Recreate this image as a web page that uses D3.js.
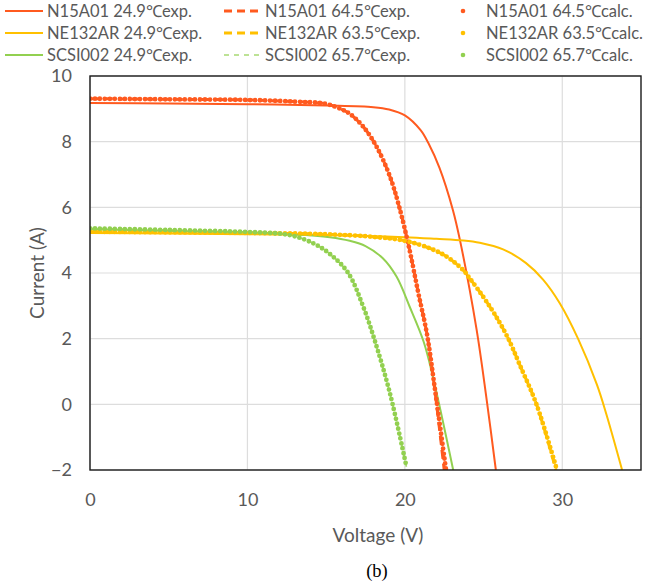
<!DOCTYPE html>
<html>
<head>
<meta charset="utf-8">
<script src="https://cdn.jsdelivr.net/npm/d3@7"></script>
<style>
	body { margin: 0; background: #fff; }
	text { font-family: Lato, "Open Sans", sans-serif; fill: #595959; }
</style>
</head>
<body>
<div class="iv-chart"></div>
<script>

// x ticks / y ticks
const voltTicks = [0, 10, 20, 30];
const currTicks = [-2, 0, 2, 4, 6, 8, 10];

// [voltage, current]
const n15a01Exp25 = [[0, 9.18], [5, 9.16], [10, 9.14], [15, 9.1], [18, 9.05], [19, 8.98], [20, 8.8], [21, 8.35], [21.5, 7.95], [22.2, 7.2], [23.05, 5.92], [23.5, 5.0], [24.55, 2.3], [25.18, 0.2], [25.78, -2.0]];
const n15a01Exp64 = [[0, 9.31], [5, 9.29], [10, 9.27], [13, 9.22], [15, 9.15], [16, 8.98], [16.5, 8.85], [17.35, 8.46], [18.2, 7.85], [19.05, 6.94], [19.65, 6.0], [20.3, 4.7], [20.85, 3.4], [21.4, 2.15], [21.9, 0.45], [22.5, -2.0]];
const n15a01Calc64 = [[0, 9.31], [5, 9.29], [10, 9.27], [13, 9.22], [15, 9.15], [16, 8.98], [16.5, 8.85], [17.35, 8.46], [18.2, 7.85], [19.05, 6.94], [19.65, 6.0], [20.3, 4.7], [20.85, 3.4], [21.4, 2.15], [21.9, 0.5], [22.6, -1.95]];

const ne132arExp25 = [[0, 5.22], [5, 5.2], [10, 5.18], [15, 5.16], [20, 5.09], [22, 5.04], [23.7, 4.99], [24.76, 4.92], [26.24, 4.72], [27.7, 4.3], [28.78, 3.8], [29.84, 3.08], [31.0, 2.0], [32.2, 0.6], [32.8, -0.3], [33.8, -2.0]];
const ne132arExp63 = [[0, 5.26], [5, 5.24], [10, 5.22], [15, 5.18], [18, 5.1], [20, 4.98], [21.6, 4.75], [22.65, 4.5], [23.7, 4.09], [24.1, 3.85], [24.97, 3.28], [25.8, 2.67], [26.56, 2.01], [27.3, 1.2], [28.36, 0.0], [29.6, -2.0]];
const ne132arCalc63 = [[0, 5.26], [5, 5.24], [10, 5.22], [15, 5.18], [18, 5.1], [20, 4.98], [21.6, 4.75], [22.65, 4.5], [23.7, 4.09], [24.1, 3.85], [24.97, 3.28], [25.8, 2.67], [26.56, 2.01], [27.3, 1.2], [28.36, 0.0], [29.63, -1.95]];

const scsi002Exp25 = [[0, 5.33], [5, 5.28], [10, 5.23], [13, 5.18], [15.24, 5.09], [16.5, 4.98], [17.5, 4.82], [18.6, 4.45], [19.47, 3.89], [20.3, 2.98], [21.2, 1.9], [21.8, 0.8], [23.07, -2.0]];
const scsi002Exp66 = [[0, 5.36], [5, 5.31], [10, 5.25], [12, 5.2], [13, 5.12], [14.2, 4.9], [15.24, 4.58], [16.4, 4.0], [17.35, 2.98], [18.05, 2.0], [19.05, 0.34], [20.1, -1.9]];
const scsi002Calc66 = [[0, 5.36], [5, 5.31], [10, 5.25], [12, 5.2], [13, 5.12], [14.2, 4.9], [15.24, 4.58], [16.4, 4.0], [17.35, 2.98], [18.05, 2.0], [19.05, 0.34], [20.1, -1.9]];

const red = "#FF5A1F";
const gold = "#FFC000";
const green = "#92D050";

const series = [
	{ label: "N15A01 24.9\u2103exp.", data: n15a01Exp25, color: red, kind: "solid", col: 0, row: 0 },
	{ label: "NE132AR 24.9\u2103exp.", data: ne132arExp25, color: gold, kind: "solid", col: 0, row: 1 },
	{ label: "SCSI002 24.9\u2103exp.", data: scsi002Exp25, color: green, kind: "solid", col: 0, row: 2 },
	{ label: "N15A01 64.5\u2103exp.", data: n15a01Exp64, color: red, kind: "dash", col: 1, row: 0 },
	{ label: "NE132AR 63.5\u2103exp.", data: ne132arExp63, color: gold, kind: "dash", col: 1, row: 1 },
	{ label: "SCSI002 65.7\u2103exp.", data: scsi002Exp66, color: green, kind: "thindash", col: 1, row: 2 },
	{ label: "N15A01 64.5\u2103calc.", data: n15a01Calc64, color: red, kind: "dot", col: 2, row: 0 },
	{ label: "NE132AR 63.5\u2103calc.", data: ne132arCalc63, color: gold, kind: "dot", col: 2, row: 1 },
	{ label: "SCSI002 65.7\u2103calc.", data: scsi002Calc66, color: green, kind: "dot", col: 2, row: 2 }
];

const width = 646;
const height = 583;
const plot = { left: 90, right: 641, top: 76, bottom: 470 };

const scaleV = d3.scaleLinear().domain([0, 35]).range([plot.left, plot.right]);
const scaleI = d3.scaleLinear().domain([-2, 10]).range([plot.bottom, plot.top]);

const svg = d3.select(".iv-chart")
	.append("svg")
		.attr("width", width)
		.attr("height", height);

// grid
svg.append("g")
	.selectAll("line")
		.data(currTicks).enter()
	.append("line")
		.attr("x1", plot.left).attr("x2", plot.right)
		.attr("y1", (d) => scaleI(d)).attr("y2", (d) => scaleI(d))
		.attr("stroke", "#DDDDDD").attr("stroke-width", 1.2);

svg.append("g")
	.selectAll("line")
		.data(voltTicks).enter()
	.append("line")
		.attr("x1", (d) => scaleV(d)).attr("x2", (d) => scaleV(d))
		.attr("y1", plot.top).attr("y2", plot.bottom)
		.attr("stroke", "#DDDDDD").attr("stroke-width", 1.2);

// curves
svg.append("clipPath").attr("id", "clip")
	.append("rect")
		.attr("x", plot.left).attr("y", plot.top)
		.attr("width", plot.right - plot.left).attr("height", plot.bottom - plot.top);

const line = d3.line()
	.x((d) => scaleV(d[0]))
	.y((d) => scaleI(d[1]))
	.curve(d3.curveCatmullRom.alpha(0.5));

const styles = {
	solid: { w: 2, dash: null, cap: "butt", opacity: 1 },
	dash: { w: 3, dash: "9 5", cap: "butt", opacity: 1 },
	thindash: { w: 1.6, dash: "5 5", cap: "butt", opacity: 0.8 },
	dot: { w: 4.8, dash: "0 5", cap: "round", opacity: 1 }
};

const order = ["solid", "dash", "thindash", "dot"];
const drawOrder = series.slice().sort((a, b) => order.indexOf(a.kind) - order.indexOf(b.kind));

svg.append("g")
	.attr("clip-path", "url(#clip)")
	.selectAll("path")
		.data(drawOrder).enter()
	.append("path")
		.attr("d", (d) => line(d.data))
		.attr("fill", "none")
		.attr("stroke", (d) => d.color)
		.attr("stroke-width", (d) => styles[d.kind].w)
		.attr("stroke-dasharray", (d) => styles[d.kind].dash)
		.attr("stroke-linecap", (d) => styles[d.kind].cap)
		.attr("opacity", (d) => styles[d.kind].opacity);

// plot frame
svg.append("rect")
	.attr("x", plot.left).attr("y", plot.top)
	.attr("width", plot.right - plot.left).attr("height", plot.bottom - plot.top)
	.attr("fill", "none").attr("stroke", "#1a1a1a").attr("stroke-width", 1.4);

// axes
const xAxis = d3.axisBottom(scaleV).tickValues(voltTicks).tickSize(0).tickPadding(23);
const gx = svg.append("g")
	.attr("transform", `translate(0, ${plot.bottom})`)
	.call(xAxis);
gx.select(".domain").remove();
gx.selectAll("text").attr("font-size", 18).attr("font-family", "Lato").attr("fill", "#595959");

const yAxis = d3.axisLeft(scaleI).tickValues(currTicks).tickSize(0).tickPadding(18);
const gy = svg.append("g")
	.attr("transform", `translate(${plot.left}, 0)`)
	.call(yAxis);
gy.select(".domain").remove();
gy.selectAll("text").attr("font-size", 18).attr("font-family", "Lato").attr("fill", "#595959");

svg.append("text")
	.attr("x", 378).attr("y", 542)
	.attr("text-anchor", "middle")
	.attr("font-size", 19)
	.text("Voltage (V)");

svg.append("text")
	.attr("transform", "translate(44, 273) rotate(-90)")
	.attr("text-anchor", "middle")
	.attr("font-size", 19)
	.text("Current (A)");

svg.append("text")
	.attr("x", 377).attr("y", 577)
	.attr("text-anchor", "middle")
	.attr("font-size", 18.5)
	.style("font-family", "'Liberation Serif', serif")
	.style("fill", "#000")
	.text("(b)");

// legend
const colX = [5, 224, 455];
const rowY = [11, 33, 55];

const legend = svg.append("g")
	.selectAll(".key")
		.data(series).enter()
	.append("g")
		.attr("class", "key")
		.attr("transform", (d) => `translate(${colX[d.col]}, ${rowY[d.row]})`);

legend.filter((d) => d.kind !== "dot")
	.append("line")
		.attr("x1", 0).attr("x2", (d) => d.col === 0 ? 38 : 36)
		.attr("stroke", (d) => d.color)
		.attr("stroke-width", (d) => styles[d.kind].w)
		.attr("stroke-dasharray", (d) => d.kind === "dash" ? "8 5" : styles[d.kind].dash)
		.attr("opacity", (d) => styles[d.kind].opacity);

legend.filter((d) => d.kind === "dot")
	.append("circle")
		.attr("cx", 8).attr("r", 2.3)
		.attr("fill", (d) => d.color);

legend.append("text")
	.attr("x", (d) => d.col === 2 ? 31 : (d.col === 0 ? 42 : 41))
	.attr("dy", "0.35em")
	.attr("font-size", 16.5)
	.text((d) => d.label);

</script>
</body>
</html>
